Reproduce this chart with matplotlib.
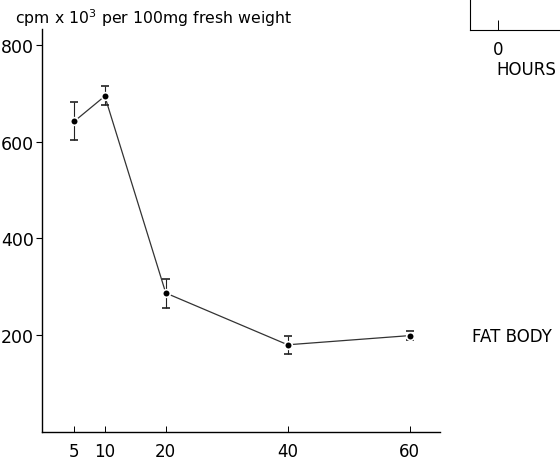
import matplotlib.pyplot as plt

# uptake into fat body vs time after injection
minutes = [5, 10, 20, 40, 60]
cpm = [642, 694, 287, 180, 199]      # cpm x 10^3 per 100 mg fresh weight
err_hi = [40, 21, 28, 19, 9]
err_lo = [39, 18, 31, 19, 9]
xticks = [5, 10, 20, 40, 60]
yticks = [200, 400, 600, 800]

plt.rcParams['font.family'] = ['DejaVu Sans']
plt.rcParams['mathtext.fontset'] = 'dejavusans'

fig = plt.figure(figsize=(5.6, 4.6), dpi=100)
ax = fig.add_axes([0.075, 0.059, 0.711, 0.876])

ax.plot(minutes, cpm, color='#333333', lw=0.9, zorder=1)
ax.errorbar(minutes, cpm, yerr=[err_lo, err_hi], fmt='o', color='black',
            ms=5.5, mec='white', mew=1.2, elinewidth=0.8, capsize=3,
            capthick=0.8, ecolor='#222222', zorder=2)

ax.set_xlim(-0.3, 65)
ax.set_ylim(0, 833)
ax.set_xticks(xticks)
ax.set_yticks(yticks)
ax.spines['top'].set_visible(False)
ax.spines['right'].set_visible(False)
for s in ['left', 'bottom']:
    ax.spines[s].set_linewidth(1.0)
ax.tick_params(axis='x', direction='in', length=4, width=0.7, labelsize=12, pad=7)
ax.tick_params(axis='y', direction='out', length=4, width=0.8, labelsize=12.5, pad=2)

fig.text(0.027, 0.948, r'cpm x 10$^{3}$ per 100mg fresh weight', fontsize=11.3)
ax.text(70.3, 199, 'FAT BODY', fontsize=12, va='center')

# corner of the neighbouring panel
inset = fig.add_axes([0.839, 0.9326, 0.3, 0.3])
inset.set_xlim(-2, 10)
inset.set_ylim(0, 1)
inset.set_xticks([0])
inset.set_yticks([])
inset.spines['top'].set_visible(False)
inset.spines['right'].set_visible(False)
inset.tick_params(axis='x', direction='in', length=7, width=0.7, labelsize=12, pad=7)
inset.set_xlabel('HOURS', fontsize=12, va='center', ha='left')
inset.xaxis.set_label_coords(0.16, -0.285)

fig.savefig('out.png', dpi=100)
